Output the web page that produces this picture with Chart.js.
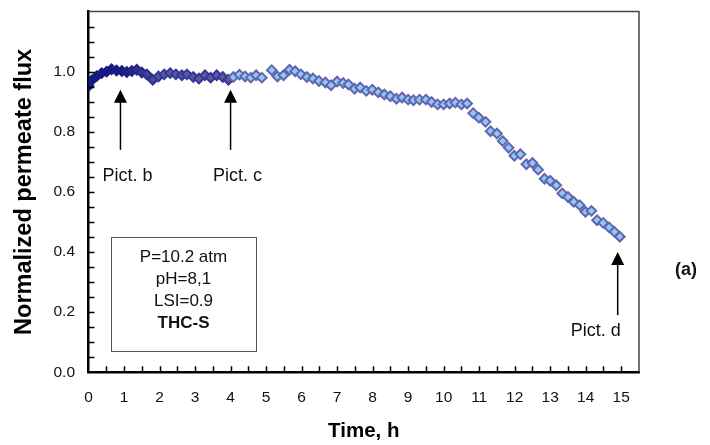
<!DOCTYPE html>
<html>
<head>
<meta charset="utf-8">
<script src="https://cdn.jsdelivr.net/npm/chart.js@4/dist/chart.umd.min.js"></script>
<style>
  html, body { margin: 0; padding: 0; background: #fff; }
  #wrap { width: 710px; height: 445px; position: relative; }
</style>
</head>
<body>
<div id="wrap"><canvas id="fluxChart" width="710" height="445"></canvas></div>
<script>
// time (h) and normalized permeate flux
const times = [0, 0.09, 0.23, 0.37, 0.51, 0.65, 0.79, 0.94, 1.08, 1.22, 1.36, 1.5, 1.64, 1.81, 1.97,
  2.13, 2.3, 2.46, 2.63, 2.77, 2.95, 3.11, 3.28, 3.44, 3.61, 3.78, 3.94, 4.08, 4.25, 4.41, 4.57,
  4.72, 4.88, 5.16, 5.32, 5.49, 5.66, 5.82, 5.98, 6.15, 6.32, 6.49, 6.67, 6.83, 7.0, 7.17, 7.32,
  7.49, 7.65, 7.82, 7.99, 8.16, 8.33, 8.5, 8.67, 8.83, 9.0, 9.15, 9.32, 9.5, 9.66, 9.83, 10.0,
  10.17, 10.33, 10.5, 10.66, 10.83, 10.99, 11.18, 11.32, 11.5, 11.66, 11.83, 11.99, 12.16, 12.33,
  12.5, 12.66, 12.84, 13.0, 13.17, 13.34, 13.5, 13.66, 13.83, 13.99, 14.16, 14.32, 14.49, 14.66,
  14.81, 14.96];
const flux = [0.952, 0.971, 0.985, 0.995, 1.0, 1.008, 1.004, 1.002, 0.999, 1.002, 1.006, 0.997, 0.991, 0.973, 0.984,
  0.991, 0.995, 0.991, 0.988, 0.991, 0.982, 0.977, 0.988, 0.98, 0.988, 0.982, 0.973, 0.982, 0.99, 0.984, 0.98,
  0.988, 0.98, 1.005, 0.984, 0.988, 1.006, 1.001, 0.991, 0.982, 0.977, 0.969, 0.964, 0.955, 0.967, 0.962, 0.957,
  0.943, 0.947, 0.936, 0.94, 0.931, 0.924, 0.918, 0.91, 0.914, 0.907, 0.905, 0.907, 0.907, 0.899, 0.891, 0.891,
  0.894, 0.897, 0.891, 0.894, 0.862, 0.847, 0.833, 0.802, 0.794, 0.769, 0.747, 0.72, 0.725, 0.692,
  0.696, 0.674, 0.644, 0.637, 0.622, 0.595, 0.583, 0.567, 0.556, 0.534, 0.537, 0.506, 0.497, 0.482,
  0.467, 0.451];

const markTimes = [0.9, 4.0, 14.9];
const markLabels = ["Pict. b", "Pict. c", "Pict. d"];
const infoLines = ["P=10.2 atm", "pH=8,1", "LSI=0.9", "THC-S"];
const panelLabel = "(a)";

const FONT = "'Liberation Sans', Arial, sans-serif";

function mix(a, b, f) {
  f = Math.max(0, Math.min(1, f));
  return "rgb(" + a.map((v, i) => Math.round(v + (b[i] - v) * f)).join(",") + ")";
}

// dark navy at the start, slate in the middle, light blue after ~4 h
function fillFor(t) {
  if (t < 4.0) return mix([25, 25, 130], [90, 90, 160], (t - 0.9) / 1.2);
  return "rgb(140,200,248)";
}
function borderFor(t) {
  if (t < 4.0) return mix([25, 25, 130], [55, 55, 150], (t - 0.9) / 1.2);
  return "rgb(100,100,172)";
}

// inward tick marks, frame, arrows, info box
const decorPlugin = {
  id: "decor",
  afterDraw(chart) {
    const { ctx, chartArea: a, scales } = chart;
    const xs = scales.x, ys = scales.y;
    ctx.save();

    // top and right frame lines
    ctx.strokeStyle = "#444";
    ctx.lineWidth = 1.5;
    ctx.beginPath();
    ctx.moveTo(a.left, a.top);
    ctx.lineTo(a.right, a.top);
    ctx.lineTo(a.right, a.bottom);
    ctx.stroke();

    // tick marks pointing into the plot
    ctx.strokeStyle = "#000";
    ctx.lineWidth = 1.5;
    ctx.beginPath();
    xs.ticks.forEach((tk) => {
      if (tk.value <= xs.min || tk.value >= xs.max) return;
      const px = Math.round(xs.getPixelForValue(tk.value)) + 0.5;
      ctx.moveTo(px, a.bottom);
      ctx.lineTo(px, a.bottom - 6);
    });
    ys.ticks.forEach((tk) => {
      if (tk.value <= ys.min || tk.value >= ys.max - 1e-9) return;
      const py = Math.round(ys.getPixelForValue(tk.value)) + 0.5;
      ctx.moveTo(a.left, py);
      ctx.lineTo(a.left + 6, py);
    });
    ctx.stroke();

    // arrows with picture labels
    ctx.strokeStyle = "#000";
    ctx.lineWidth = 1.5;
    ctx.font = "18px " + FONT;
    ctx.textBaseline = "middle";
    markTimes.forEach((t, i) => {
      const px = xs.getPixelForValue(t);
      const last = i === markTimes.length - 1;
      const tip = ys.getPixelForValue(last ? 0.40 : 0.94);
      const tail = ys.getPixelForValue(last ? 0.19 : 0.74);
      ctx.beginPath();
      ctx.moveTo(px, tail);
      ctx.lineTo(px, tip + 10);
      ctx.stroke();
      ctx.beginPath();
      ctx.moveTo(px, tip);
      ctx.lineTo(px - 6.5, tip + 13);
      ctx.lineTo(px + 6.5, tip + 13);
      ctx.closePath();
      ctx.fillStyle = "#000";
      ctx.fill();
      ctx.fillStyle = "#111";
      if (last) {
        ctx.textAlign = "right";
        ctx.fillText(markLabels[i], px + 3, ys.getPixelForValue(0.138));
      } else {
        ctx.textAlign = "center";
        ctx.fillText(markLabels[i], px + 7, ys.getPixelForValue(0.652));
      }
    });

    // info box
    const bx1 = xs.getPixelForValue(0.63), bx2 = xs.getPixelForValue(4.72);
    const by1 = ys.getPixelForValue(0.45), by2 = ys.getPixelForValue(0.071);
    ctx.strokeStyle = "#555";
    ctx.lineWidth = 1;
    ctx.strokeRect(Math.round(bx1) + 0.5, Math.round(by1) + 0.5, Math.round(bx2 - bx1), Math.round(by2 - by1));
    ctx.textAlign = "center";
    ctx.fillStyle = "#111";
    const cx = (bx1 + bx2) / 2;
    infoLines.forEach((line, i) => {
      ctx.font = (i === infoLines.length - 1 ? "bold " : "") + "17px " + FONT;
      ctx.fillText(line, cx, by1 + 20 + i * 22.2);
    });

    // panel label
    ctx.font = "bold 18px " + FONT;
    ctx.textAlign = "center";
    ctx.fillText(panelLabel, 686, 270);
    ctx.restore();
  }
};

new Chart(document.getElementById("fluxChart").getContext("2d"), {
  type: "scatter",
  data: {
    datasets: [{
      data: times.map((t, i) => ({ x: t, y: flux[i] })),
      pointStyle: "rectRot",
      pointRadius: 4.8,
      pointBorderWidth: 2,
      backgroundColor: (c) => fillFor(times[c.dataIndex] || 0),
      borderColor: (c) => borderFor(times[c.dataIndex] || 0)
    }]
  },
  options: {
    responsive: false,
    animation: false,
    events: [],
    layout: { padding: { left: 0, right: 71, top: 11.5, bottom: 0 } },
    plugins: { legend: { display: false }, tooltip: { enabled: false } },
    scales: {
      x: {
        type: "linear",
        min: 0,
        max: 15.5,
        afterFit: (s) => { s.height = 72.7; s.paddingLeft = 0; s.paddingRight = 0; },
        grid: { display: false, drawTicks: false },
        border: { display: true, color: "#000", width: 2.5 },
        ticks: {
          stepSize: 0.5,
          maxTicksLimit: 100,
          autoSkip: false,
          maxRotation: 0,
          padding: 16,
          color: "#111",
          font: { family: FONT, size: 15.5 },
          callback: (v) => (Math.abs(v - Math.round(v)) < 1e-6 && v < 15.25 ? String(Math.round(v)) : "")
        },
        title: {
          display: true,
          text: "Time, h",
          color: "#000",
          font: { family: FONT, size: 20.5, weight: "bold", lineHeight: 1 },
          padding: { top: 0, bottom: 3 }
        }
      },
      y: {
        type: "linear",
        min: 0,
        max: 1.2,
        afterFit: (s) => { s.width = 88.5; s.paddingTop = 0; s.paddingBottom = 0; },
        grid: { display: false, drawTicks: false },
        border: { display: true, color: "#000", width: 2.5 },
        ticks: {
          stepSize: 0.05,
          maxTicksLimit: 100,
          autoSkip: false,
          padding: 13.5,
          color: "#111",
          font: { family: FONT, size: 15.5 },
          callback: (v) => {
            const k = Math.round(v * 100);
            return k % 20 === 0 && k <= 100 ? (k / 100).toFixed(1) : "";
          }
        },
        title: {
          display: true,
          text: "Normalized permeate flux",
          color: "#000",
          font: { family: FONT, size: 23.5, weight: "bold", lineHeight: 1 },
          padding: { top: 13, bottom: 0 }
        }
      }
    }
  },
  plugins: [decorPlugin]
});
</script>
</body>
</html>
